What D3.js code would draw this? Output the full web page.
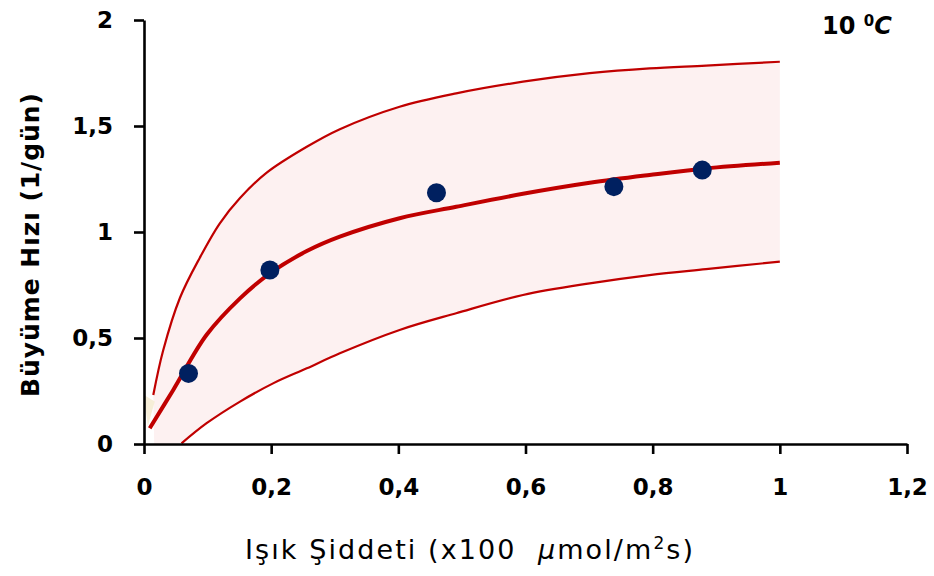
<!DOCTYPE html>
<html><head><meta charset="utf-8">
<script src="https://cdn.jsdelivr.net/npm/d3@7"></script>
<style>
html,body{margin:0;padding:0;background:#fff;}
svg{display:block;}
text{white-space:pre;}
</style></head>
<body>
<svg id="chart" width="934" height="576"></svg>
<script>
// Observed data points
const obsX = [0.070, 0.198, 0.460, 0.739, 0.878];
const obsY = [0.333, 0.821, 1.185, 1.214, 1.292];

// Fitted curve (middle)
const fitX = [0.009, 0.046, 0.0985, 0.151, 0.198, 0.256, 0.308, 0.402, 0.491, 0.596, 0.701, 0.795, 0.884, 1.0];
const fitY = [0.074, 0.255, 0.515, 0.687, 0.805, 0.910, 0.978, 1.065, 1.119, 1.180, 1.232, 1.269, 1.300, 1.327];

// Upper band
const upX = [0.0146, 0.030, 0.0566, 0.088, 0.119, 0.151, 0.193, 0.256, 0.308, 0.402, 0.491, 0.596, 0.701, 0.795, 0.884, 1.0];
const upY = [0.231, 0.440, 0.690, 0.880, 1.040, 1.160, 1.280, 1.402, 1.485, 1.591, 1.654, 1.709, 1.749, 1.772, 1.785, 1.803];

// Lower band
const loX = [0.059, 0.0985, 0.151, 0.203, 0.256, 0.308, 0.402, 0.491, 0.596, 0.701, 0.795, 0.884, 1.0];
const loY = [0.003, 0.098, 0.200, 0.286, 0.357, 0.428, 0.538, 0.617, 0.703, 0.758, 0.797, 0.825, 0.860];

// Small beige patch near origin
const patchX = [0.0, 0.017, 0.006];
const patchY = [0.231, 0.200, 0.085];

const xTicks = [0, 0.2, 0.4, 0.6, 0.8, 1, 1.2];
const yTicks = [0, 0.5, 1, 1.5, 2];

const svg = d3.select("#chart");
const x = d3.scaleLinear().domain([0, 1.2]).range([144, 907]);
const y = d3.scaleLinear().domain([0, 2]).range([444, 20]);
const fmt = d => String(d).replace(".", ",");

const pts = (xs, ys) => xs.map((v, i) => [v, ys[i]]);
const up = pts(upX, upY), lo = pts(loX, loY), fit = pts(fitX, fitY);

const line = d3.line().curve(d3.curveCatmullRom.alpha(0.5)).x(d => x(d[0])).y(d => y(d[1]));

// band polygon: upper curve, straight edge down, lower curve reversed, straight back
const loRev = lo.slice().reverse();
const bandD = line(up) + "L" + line(loRev).slice(1) +
  "L" + x(0.016) + "," + y(0) + "Z";
svg.append("path").attr("d", bandD).attr("fill", "#fdf1f1");

svg.append("path")
  .attr("d", d3.line().x(d => x(d[0])).y(d => y(d[1]))(pts(patchX, patchY)) + "Z")
  .attr("fill", "#f6eed8");

svg.append("path").attr("d", line(up)).attr("fill", "none").attr("stroke", "#c00000").attr("stroke-width", 2.2);
svg.append("path").attr("d", line(lo)).attr("fill", "none").attr("stroke", "#c00000").attr("stroke-width", 2.2);
svg.append("path").attr("d", line(fit)).attr("fill", "none").attr("stroke", "#c00000").attr("stroke-width", 4);

svg.selectAll("circle.obs").data(pts(obsX, obsY)).enter().append("circle")
  .attr("class", "obs")
  .attr("cx", d => x(d[0])).attr("cy", d => y(d[1])).attr("r", 9.5)
  .attr("fill", "#002060");

// axes
const gx = svg.append("g").attr("transform", "translate(0,444)")
  .call(d3.axisBottom(x).tickValues(xTicks).tickSize(10).tickSizeOuter(0).tickPadding(25).tickFormat(fmt));
const gy = svg.append("g").attr("transform", "translate(144,0)")
  .call(d3.axisLeft(y).tickValues(yTicks).tickSize(10).tickSizeOuter(0).tickPadding(21).tickFormat(fmt));
[gx, gy].forEach(g => {
  g.select(".domain").attr("stroke", "#000").attr("stroke-width", 2.6);
  g.selectAll(".tick line").attr("stroke", "#000").attr("stroke-width", 2.6);
  g.selectAll(".tick text").attr("fill", "#000")
    .style("font-family", "'DejaVu Sans', sans-serif").style("font-weight", "bold").style("font-size", "23px");
});
gy.selectAll(".tick text").attr("dy", "0.33em");

// axis titles
svg.append("text")
  .attr("transform", "translate(39,245) rotate(-90)")
  .attr("text-anchor", "middle")
  .attr("textLength", 304).attr("lengthAdjust", "spacing")
  .style("font-family", "'DejaVu Sans', sans-serif").style("font-weight", "bold").style("font-size", "25px")
  .text("Büyüme Hızı (1/gün)");

const xt = svg.append("text")
  .attr("x", 469).attr("y", 559)
  .attr("text-anchor", "middle")
  .attr("textLength", 448).attr("lengthAdjust", "spacing")
  .style("font-family", "'DejaVu Sans', sans-serif").style("font-size", "27px");
xt.append("tspan").text("Işık Şiddeti (x100  ");
xt.append("tspan").style("font-style", "italic").text("µ");
xt.append("tspan").text("mol/m");
xt.append("tspan").attr("dy", -10).style("font-size", "17px").text("2");
xt.append("tspan").attr("dy", 10).text("s)");

const tt = svg.append("text")
  .attr("x", 822).attr("y", 34)
  .style("font-family", "'DejaVu Sans', sans-serif").style("font-weight", "bold").style("font-size", "24px");
tt.append("tspan").text("10 ");
tt.append("tspan").attr("dy", -8).style("font-size", "15px").text("0");
tt.append("tspan").attr("dy", 8).style("font-style", "italic").text("C");
</script>
</body></html>
